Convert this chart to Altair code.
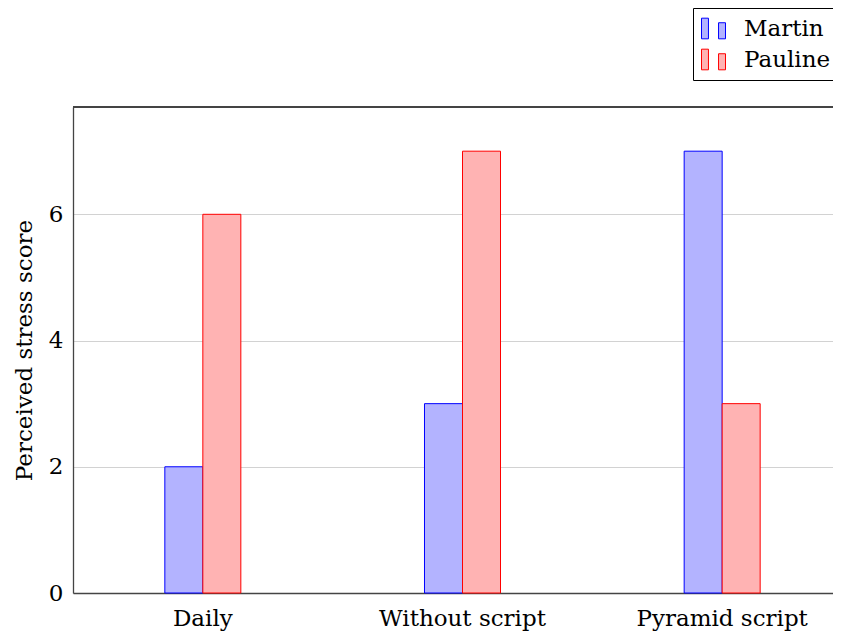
import altair as alt
import pandas as pd

categories = ["Daily", "Without script", "Pyramid script"]
series = ["Martin", "Pauline"]
martin = [2, 3, 7]
pauline = [6, 7, 3]
y_ticks = [0, 2, 4, 6]
fill_colors = ["#b3b3ff", "#ffb3b3"]
stroke_colors = ["#0000ff", "#ff0000"]

rows = []
for c, m, p in zip(categories, martin, pauline):
    rows.append({"category": c, "person": "Martin", "score": m})
    rows.append({"category": c, "person": "Pauline", "score": p})
df = pd.DataFrame(rows)

FONT = "DejaVu Serif"
FS = 23
AXIS_COLOR = "#444444"

legend_shape = "M-1,-0.86H-0.42V0.86H-1Z M0.42,-0.48H1V0.86H0.42Z"

legend = alt.Legend(
    title=None,
    orient="none",
    legendX=620,
    legendY=-99,
    direction="vertical",
    symbolType=legend_shape,
    symbolSize=576,
    symbolStrokeWidth=1,
    labelFont=FONT,
    labelFontSize=FS,
    labelColor="black",
    labelOffset=18,
    padding=8,
    rowPadding=6,
    strokeColor="black",
    fillColor="white",
    cornerRadius=0,
)

bars = alt.Chart(df).mark_bar(strokeWidth=1).encode(
    x=alt.X(
        "category:N",
        sort=categories,
        scale=alt.Scale(range=[0, 779], paddingInner=0.7073, paddingOuter=0.3537),
        axis=alt.Axis(
            title=None,
            labelAngle=0,
            ticks=False,
            labelPadding=14,
            labelFont=FONT,
            labelFontSize=FS,
            labelColor="black",
            domainColor=AXIS_COLOR,
            domainWidth=1.3,
            grid=False,
        ),
    ),
    xOffset=alt.XOffset(
        "person:N",
        sort=series,
        scale=alt.Scale(paddingInner=0, paddingOuter=0),
    ),
    y=alt.Y(
        "score:Q",
        scale=alt.Scale(domain=[0, 7.7], nice=False, zero=True),
        axis=alt.Axis(
            values=y_ticks,
            title="Perceived stress score",
            titleFont=FONT,
            titleFontSize=FS,
            titleFontWeight="normal",
            titleColor="black",
            titlePadding=12,
            labelFont=FONT,
            labelFontSize=FS,
            labelColor="black",
            labelPadding=10,
            ticks=False,
            domainColor=AXIS_COLOR,
            domainWidth=1.3,
            grid=True,
            gridColor="#d2d2d2",
            gridWidth=1,
        ),
    ),
    fill=alt.Fill(
        "person:N",
        sort=series,
        scale=alt.Scale(domain=series, range=fill_colors),
        legend=legend,
    ),
    stroke=alt.Stroke(
        "person:N",
        sort=series,
        scale=alt.Scale(domain=series, range=stroke_colors),
        legend=legend,
    ),
)

top_line = alt.Chart(df).mark_rule(color=AXIS_COLOR, strokeWidth=1.3).encode(
    x=alt.value(0), x2=alt.value(779), y=alt.value(0)
)

chart = alt.layer(bars, top_line).properties(
    width=760,
    height=486,
    autosize=alt.AutoSizeParams(type="none"),
    padding={"left": 65, "top": 99, "right": 0, "bottom": 38},
).configure_view(strokeWidth=0)

chart.save("out.html", embed_options={"renderer": "svg", "actions": False})
